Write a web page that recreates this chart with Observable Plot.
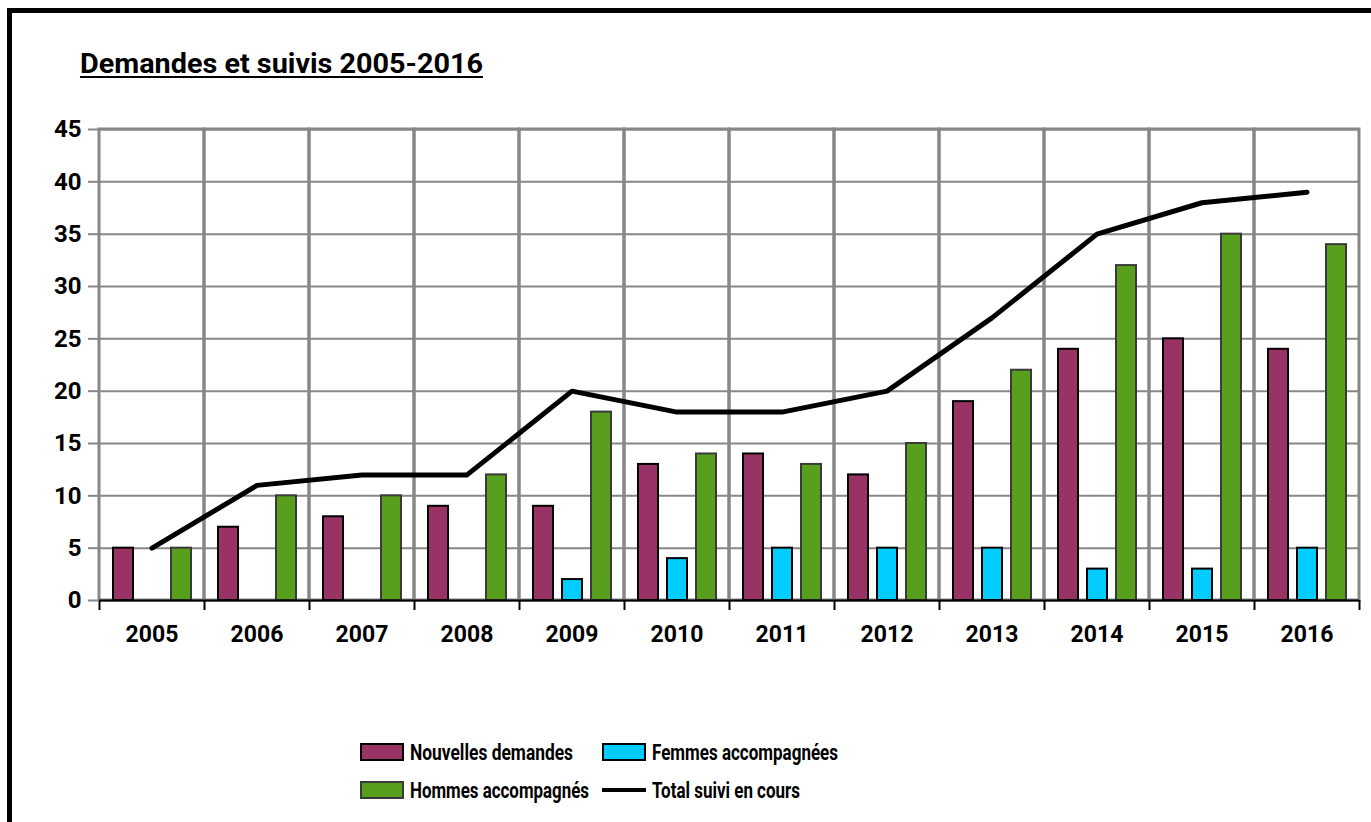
<!DOCTYPE html>
<html>
<head>
<meta charset="utf-8">
<script src="https://cdn.jsdelivr.net/npm/d3@7"></script>
<script src="https://cdn.jsdelivr.net/npm/@observablehq/plot@0.6"></script>
<style>
  html, body { margin: 0; padding: 0; background: #fff; overflow: hidden; width: 1371px; height: 822px; }
  body { position: relative; font-family: Roboto, Lato, sans-serif; }
  #frame { position: absolute; left: 7px; top: 8px; width: 1400px; height: 900px; border: 5px solid #000; box-sizing: border-box; }
  #title { position: absolute; left: 80px; top: 47px; font-weight: 700; font-size: 27px; line-height: 34px; text-decoration: underline; text-decoration-thickness: 2px; text-underline-offset: 3px; color: #000; white-space: nowrap; transform-origin: 0 50%; display: inline-block; }
  #chart { position: absolute; left: 0; top: 100px; }
  .leg { position: absolute; display: flex; align-items: center; font-weight: 700; font-size: 22px; color: #000; white-space: nowrap; height: 28px; }
  .leg .txt { display: inline-block; transform-origin: 0 50%; }
  .sw { width: 40px; height: 14px; border: 2px solid #000; margin-right: 6px; flex: none; }
  .ln { width: 44px; height: 4px; background: #000; margin-right: 6px; flex: none; }
</style>
</head>
<body>
<div id="frame"></div>
<div id="title" data-w="403">Demandes et suivis 2005-2016</div>
<div id="chart"></div>
<div id="legend"></div>
<script>
const years = ["2005","2006","2007","2008","2009","2010","2011","2012","2013","2014","2015","2016"];
const nouvelles = [5,7,8,9,9,13,14,12,19,24,25,24];
const femmes = [0,0,0,0,2,4,5,5,5,3,3,5];
const hommes = [5,10,10,12,18,14,13,15,22,32,35,34];
const total = [5,11,12,12,20,18,18,20,27,35,38,39];
const yTicks = [0,5,10,15,20,25,30,35,40,45];

const seriesNames = ["Nouvelles demandes","Femmes accompagnées","Hommes accompagnés","Total suivi en cours"];
const colors = {nouvelles: "#993366", femmes: "#00CCFF", hommes: "#589F1E"};

const rows = years.map((y, i) => ({year: y, nouvelles: nouvelles[i], femmes: femmes[i], hommes: hommes[i], total: total[i]}));

const grid = "#878787";

const chart = Plot.plot({
  width: 1371,
  height: 560,
  marginLeft: 99,
  marginRight: 12,
  marginTop: 29,
  marginBottom: 60,
  style: {fontFamily: "Roboto, Lato, sans-serif", background: "transparent", overflow: "visible"},
  x: {type: "band", domain: years, padding: 0},
  y: {domain: [0, 45]},
  marks: [
    Plot.ruleY(yTicks, {stroke: grid, strokeWidth: 2}),
    Plot.cell(years, {x: d => d, fill: "none", stroke: grid, strokeWidth: 3, inset: 0}),
    Plot.barY(rows, {x: "year", y: "nouvelles", fill: colors.nouvelles, stroke: "#000", strokeWidth: 2, insetLeft: 14, insetRight: 71}),
    Plot.barY(rows.filter(d => d.femmes > 0), {x: "year", y: "femmes", fill: colors.femmes, stroke: "#000", strokeWidth: 2, insetLeft: 43, insetRight: 42}),
    Plot.barY(rows, {x: "year", y: "hommes", fill: colors.hommes, stroke: "#3a3a3a", strokeWidth: 2, insetLeft: 72, insetRight: 13}),
    Plot.ruleY([0], {stroke: "#000", strokeWidth: 2}),
    Plot.ruleX(years, {x: d => d, y1: 0, y2: 0, insetBottom: -10, dx: 52.5, stroke: "#000", strokeWidth: 2}),
    Plot.ruleX(years.slice(0, 1), {x: d => d, y1: 0, y2: 0, insetBottom: -10, dx: -52.5, stroke: "#000", strokeWidth: 2}),
    Plot.lineY(rows, {x: "year", y: "total", stroke: "#000", strokeWidth: 5, curve: "linear"}),
    Plot.axisY({ticks: yTicks, tickSize: 11, tickPadding: 7, stroke: grid, strokeWidth: 2, fontSize: 24, fontWeight: 700, fill: "#000", label: null}),
    Plot.axisX({tickSize: 0, tickPadding: 25, fontSize: 23, fontWeight: 700, fill: "#000", label: null})
  ]
});
document.getElementById("chart").appendChild(chart);

const legend = document.getElementById("legend");
const items = [
  {name: seriesNames[0], kind: "sw", color: colors.nouvelles, border: "#000", left: 360, top: 752, w: 163},
  {name: seriesNames[1], kind: "sw", color: colors.femmes, border: "#000", left: 602, top: 752, w: 186},
  {name: seriesNames[2], kind: "sw", color: colors.hommes, border: "#3a3a3a", left: 360, top: 790, w: 179},
  {name: seriesNames[3], kind: "ln", color: "#000", left: 602, top: 790, w: 148}
];
for (const it of items) {
  const d = document.createElement("div");
  d.className = "leg";
  d.style.left = it.left + "px";
  d.style.top = (it.top - 14) + "px";
  const s = document.createElement("span");
  s.className = it.kind;
  s.style.background = it.color;
  if (it.kind === "sw") s.style.borderColor = it.border;
  d.appendChild(s);
  const t = document.createElement("span");
  t.className = "txt";
  t.dataset.w = it.w;
  t.textContent = it.name;
  d.appendChild(t);
  legend.appendChild(d);
}

function fit() {
  document.querySelectorAll("[data-w]").forEach(el => {
    el.style.transform = "none";
    const w = el.getBoundingClientRect().width;
    if (w > 0) el.style.transform = `scaleX(${(+el.dataset.w / w).toFixed(4)})`;
  });
}
fit();
if (document.fonts && document.fonts.ready) document.fonts.ready.then(fit);
</script>
</body>
</html>
